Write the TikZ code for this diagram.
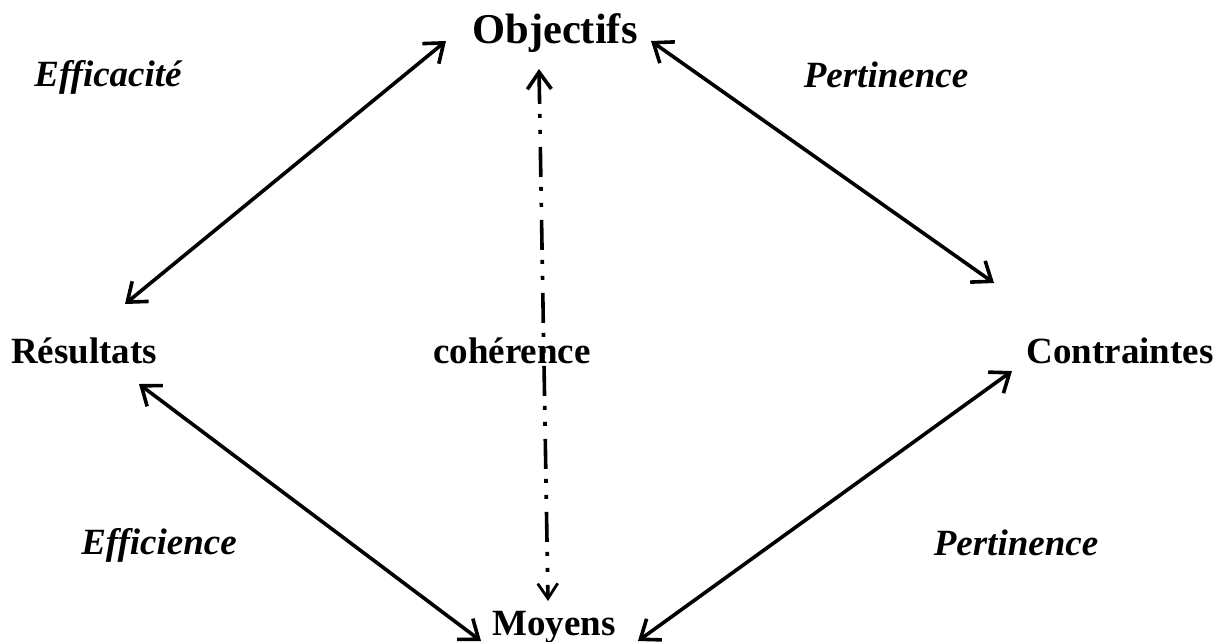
\documentclass[tikz,border=0pt]{standalone}
\usepackage{fontspec}
\setmainfont{Liberation Serif}
\usetikzlibrary{arrows.meta}
\begin{document}
\begin{tikzpicture}[x=1pt,y=-1pt,
  lbl/.style={font=\fontsize{37}{42}\selectfont\bfseries, inner sep=0pt, anchor=base},
  ilbl/.style={font=\fontsize{37}{42}\selectfont\bfseries\itshape, inner sep=0pt, anchor=base},
  conn/.style={line width=3.6pt, {Straight Barb[length=17pt,width=26pt,line width=3.6pt]}-{Straight Barb[length=17pt,width=26pt,line width=3.6pt]}},
  dd/.style={line width=3.6pt, dash pattern=on 30pt off 10pt on 4pt off 12pt on 4pt off 13pt,
    {Straight Barb[length=17pt,width=24pt,line width=3.6pt]}-{Straight Barb[length=15pt,width=20pt,line width=2.8pt]}}]
\useasboundingbox (0,0) rectangle (1225,641);
\node[lbl, font=\fontsize{42.5}{48}\selectfont\bfseries] (obj) at (555,43) {Objectifs};
\node[ilbl] (effa) at (108,86) {Efficacité};
\node[ilbl] (pert1) at (886,87) {Pertinence};
\node[lbl] (res) at (84,363) {Résultats};
\node[lbl] (coh) at (512,363) {cohérence};
\node[lbl] (con) at (1120,363) {Contraintes};
\node[ilbl] (effi) at (159,554) {Efficience};
\node[ilbl] (pert2) at (1016,555) {Pertinence};
\node[lbl] (moy) at (554,635) {Moyens};
\coordinate (a1) at (446,41);
\coordinate (a2) at (125,304);
\coordinate (b1) at (651,41);
\coordinate (b2) at (994,283);
\coordinate (c1) at (139,384);
\coordinate (c2) at (481,641);
\coordinate (d1) at (1012,371);
\coordinate (d2) at (638,641);
\coordinate (v1) at (539,69);
\coordinate (v2) at (548,601);
\draw[conn] (a1) -- (a2);
\draw[conn] (b1) -- (b2);
\draw[conn] (c1) -- (c2);
\draw[conn] (d1) -- (d2);
\draw[dd] (v1) -- (v2);
\end{tikzpicture}
\end{document}
